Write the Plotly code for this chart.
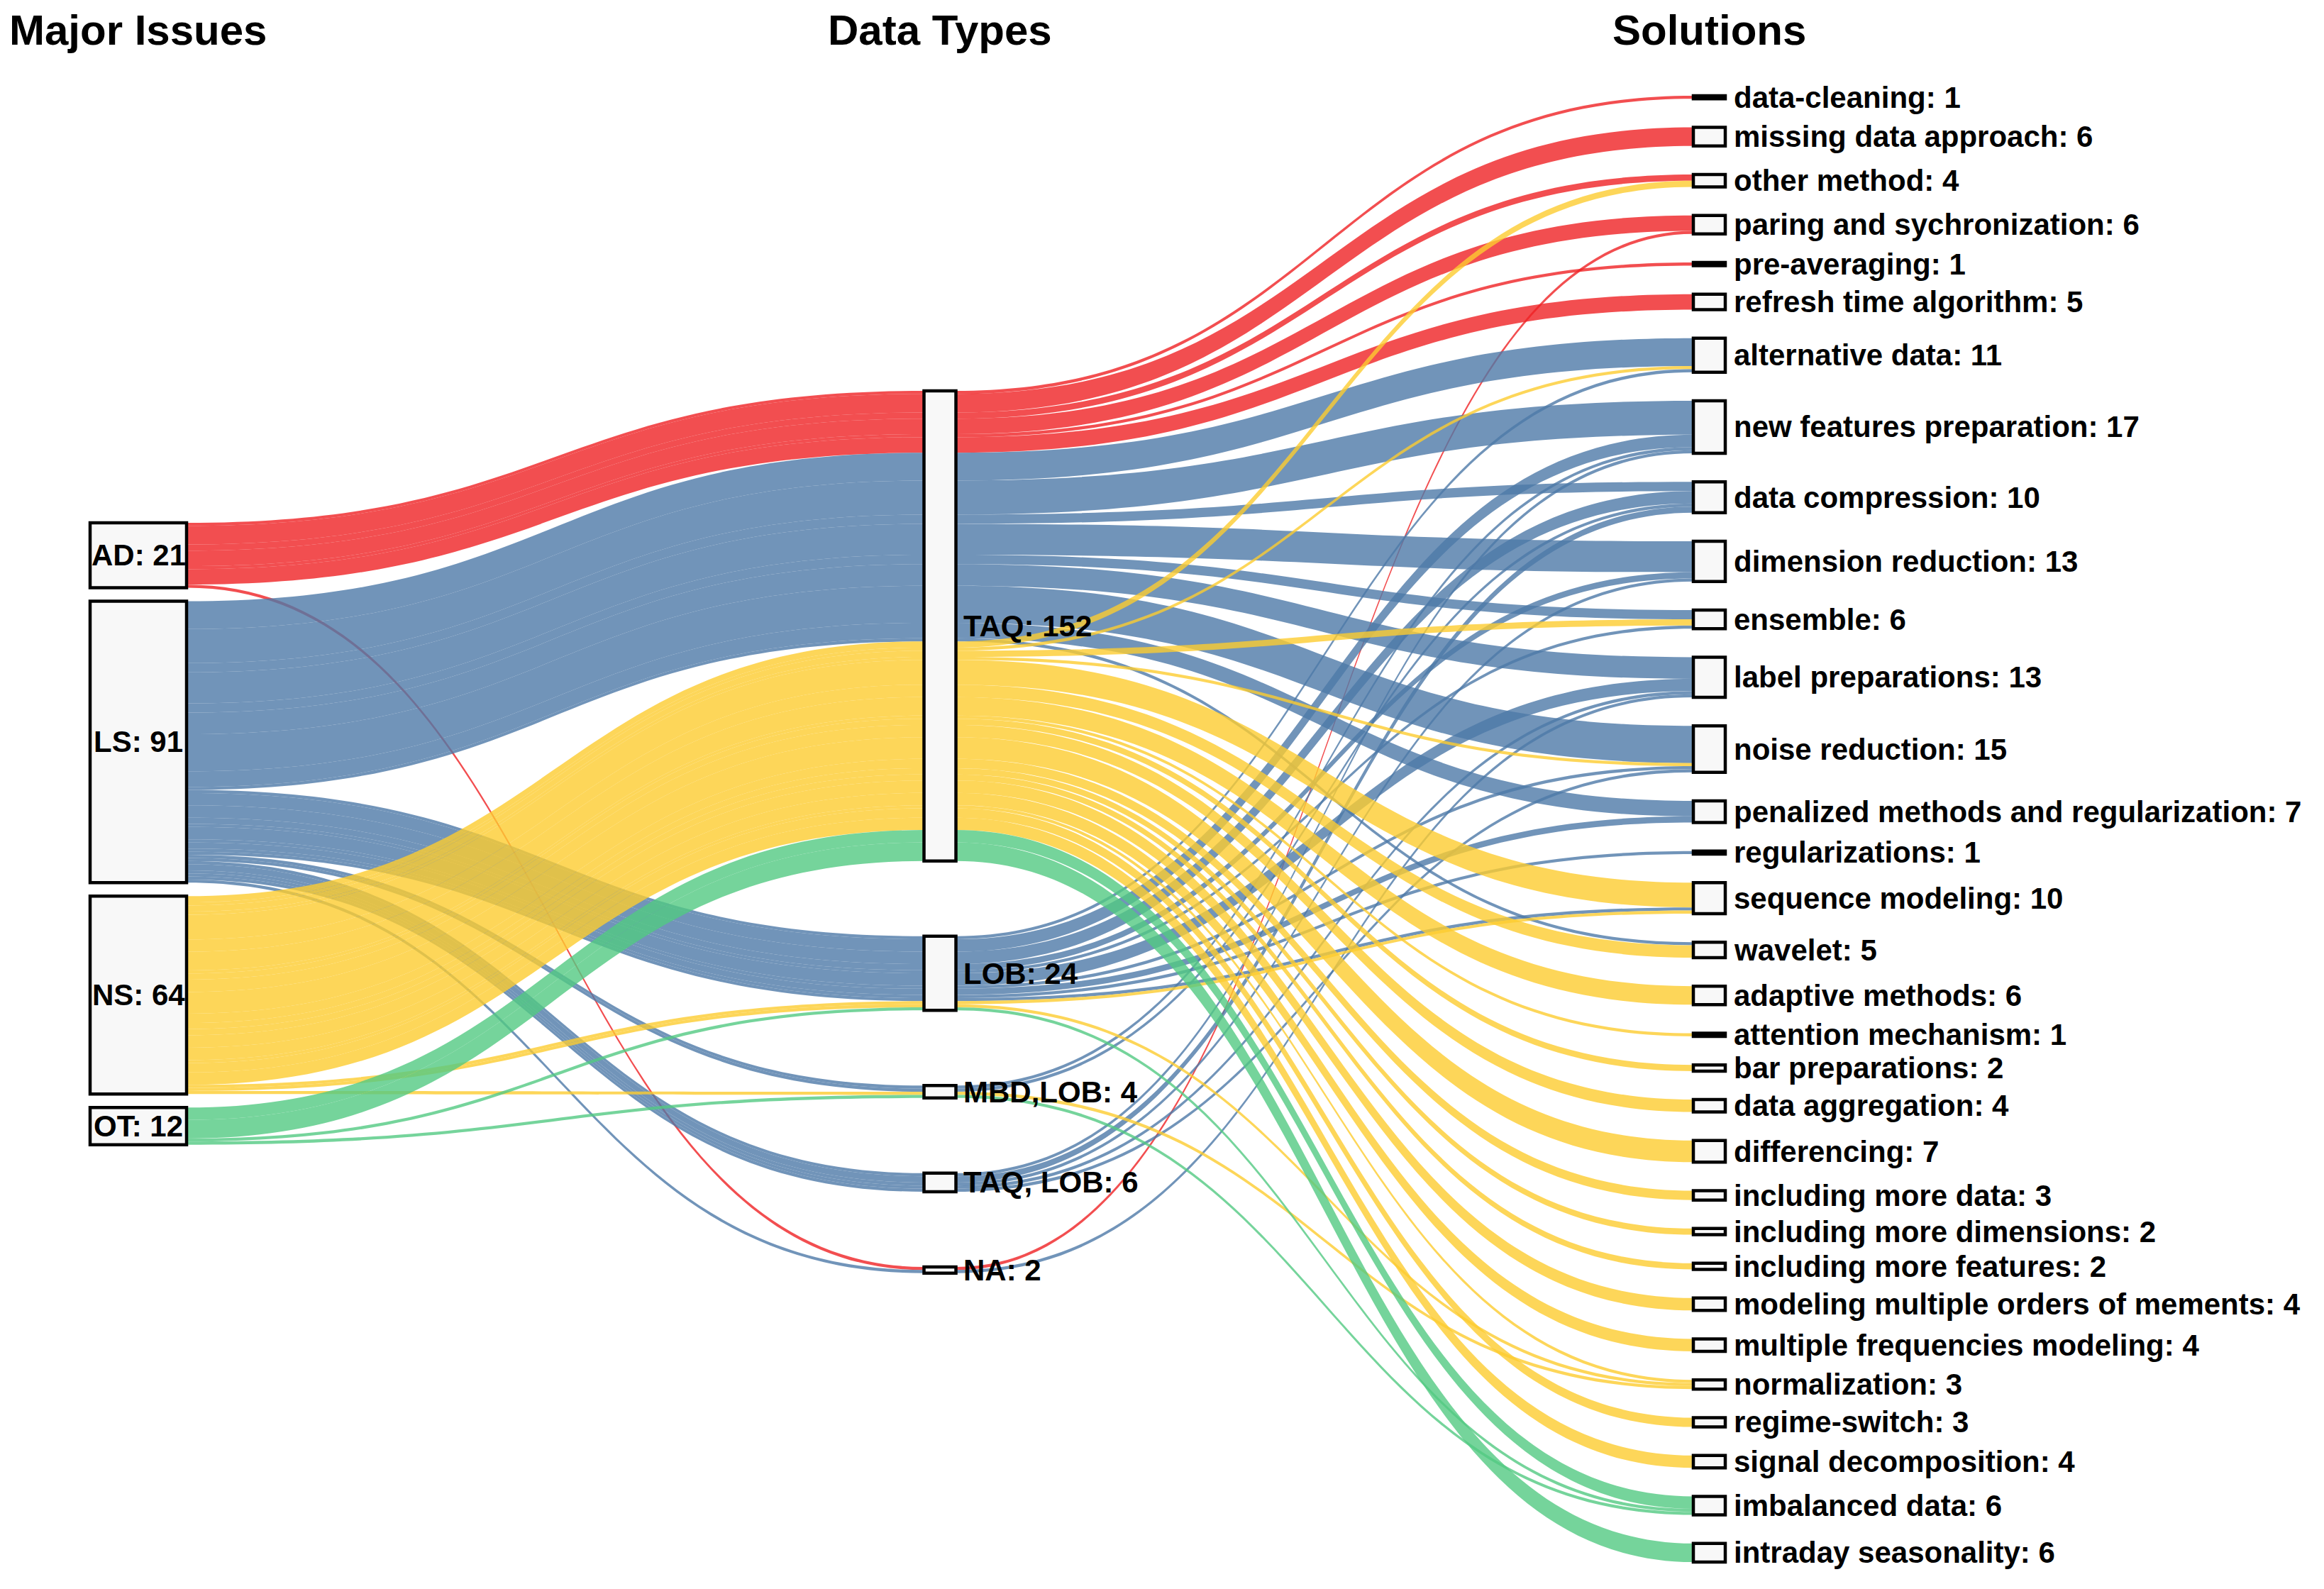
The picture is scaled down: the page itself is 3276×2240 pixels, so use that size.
import plotly.graph_objects as go

# ---------------- data ----------------
issues = ["AD", "LS", "NS", "OT"]
data_types = ["TAQ", "LOB", "MBD,LOB", "TAQ, LOB", "NA"]
solutions = [
    "data-cleaning", "missing data approach", "other method",
    "paring and sychronization", "pre-averaging", "refresh time algorithm",
    "alternative data", "new features preparation", "data compression",
    "dimension reduction", "ensemble", "label preparations", "noise reduction",
    "penalized methods and regularization", "regularizations",
    "sequence modeling", "wavelet", "adaptive methods", "attention mechanism",
    "bar preparations", "data aggregation", "differencing",
    "including more data", "including more dimensions",
    "including more features", "modeling multiple orders of mements",
    "multiple frequencies modeling", "normalization", "regime-switch",
    "signal decomposition", "imbalanced data", "intraday seasonality",
]

# each flow: major issue -> data type -> solution, number of papers
flow_issue = (
    ["AD"] * 7
    + ["LS"] * 27
    + ["NS"] * 22
    + ["OT"] * 4
)
flow_type = [
    # AD
    "TAQ", "TAQ", "TAQ", "TAQ", "NA", "TAQ", "TAQ",
    # LS
    "TAQ", "LOB",
    "TAQ", "LOB", "MBD,LOB", "TAQ, LOB",
    "TAQ", "LOB", "MBD,LOB", "TAQ, LOB",
    "TAQ", "LOB", "TAQ, LOB",
    "TAQ", "LOB",
    "TAQ", "LOB", "TAQ, LOB", "NA",
    "TAQ", "LOB", "TAQ, LOB",
    "TAQ", "LOB",
    "LOB", "LOB", "TAQ",
    # NS
    "TAQ", "TAQ", "TAQ", "TAQ", "TAQ", "LOB", "TAQ", "TAQ", "TAQ", "TAQ",
    "TAQ", "TAQ", "TAQ", "TAQ", "TAQ", "TAQ", "TAQ", "TAQ", "LOB", "MBD,LOB",
    "TAQ", "TAQ",
    # OT
    "TAQ", "LOB", "MBD,LOB", "TAQ",
]
flow_solution = [
    # AD
    "data-cleaning", "missing data approach", "other method",
    "paring and sychronization", "paring and sychronization",
    "pre-averaging", "refresh time algorithm",
    # LS
    "alternative data", "alternative data",
    "new features preparation", "new features preparation",
    "new features preparation", "new features preparation",
    "data compression", "data compression", "data compression", "data compression",
    "dimension reduction", "dimension reduction", "dimension reduction",
    "ensemble", "ensemble",
    "label preparations", "label preparations", "label preparations", "label preparations",
    "noise reduction", "noise reduction", "noise reduction",
    "penalized methods and regularization", "penalized methods and regularization",
    "regularizations", "sequence modeling", "wavelet",
    # NS
    "other method", "alternative data", "ensemble", "noise reduction",
    "sequence modeling", "sequence modeling", "wavelet", "adaptive methods",
    "attention mechanism", "bar preparations", "data aggregation", "differencing",
    "including more data", "including more dimensions", "including more features",
    "modeling multiple orders of mements", "multiple frequencies modeling",
    "normalization", "normalization", "normalization",
    "regime-switch", "signal decomposition",
    # OT
    "imbalanced data", "imbalanced data", "imbalanced data", "intraday seasonality",
]
flow_count = [
    # AD
    1, 6, 2, 5, 1, 1, 5,
    # LS
    9, 1,
    11, 4, 1, 1,
    3, 4, 1, 2,
    10, 2, 1,
    3, 1,
    7, 4, 1, 1,
    12, 1, 1,
    5, 2,
    1, 1, 1,
    # NS
    2, 1, 2, 1, 8, 1, 4, 6, 1, 2, 4, 7, 3, 2, 2, 4, 4, 1, 1, 1, 3, 4,
    # OT
    4, 1, 1, 6,
]

issue_rgb = [(239, 34, 36), (78, 121, 167), (252, 204, 48), (83, 201, 130)]
column_titles = ["Major Issues", "Data Types", "Solutions"]

# ---------------- totals ----------------
issue_total = {i: 0 for i in issues}
type_total = {t: 0 for t in data_types}
sol_total = {s: 0 for s in solutions}
pair_total = {}
for i, t, s, c in zip(flow_issue, flow_type, flow_solution, flow_count):
    issue_total[i] += c
    type_total[t] += c
    sol_total[s] += c
    pair_total[(t, i)] = pair_total.get((t, i), 0) + c
GRAND = sum(flow_count)

# ---------------- layout constants (pixels) ----------------
W, H = 3276, 2240
KY = 4.36                      # px per paper
NODE_PAD = (H - GRAND * KY) / (len(solutions) - 1)
THICK = 45
BORDER = 4.5
FONT = "Liberation Sans, Arial, Helvetica, sans-serif"
LABEL_SIZE = 42
NODE_FILL = "#f8f8f8"

X_LEFT = 240.5
LEFT_BOX_X0 = 127
X_MID = 1325
X_RIGHT = 2409.5
LEFT_TOP, LEFT_GAP = 737, 19
MID_TOP, MID_GAP = 551, 106
RIGHT_TOP, RIGHT_BOTTOM = 135, 2202
RIGHT_GAP = (RIGHT_BOTTOM - RIGHT_TOP - GRAND * KY) / (len(solutions) - 1)

node_x, node_y = [], []
node_index = {}
shapes, annotations = [], []


def px(x):
    return x / W


def py(y):
    return 1 - y / H


def add_node(key, cx, top, value):
    node_index[key] = len(node_x)
    node_x.append(cx / W)
    node_y.append((top + value * KY / 2) / H)


def box(x0, x1, top, value, fill):
    shapes.append(dict(
        type="rect", xref="paper", yref="paper",
        x0=px(x0), x1=px(x1), y0=py(top), y1=py(top + value * KY),
        fillcolor=fill, line=dict(color="black", width=BORDER), layer="above",
    ))


def label(text, x, y, anchor):
    annotations.append(dict(
        x=px(x), y=py(y), xref="paper", yref="paper", text="<b>" + text + "</b>",
        showarrow=False, xanchor=anchor, yanchor="middle",
        font=dict(family=FONT, size=LABEL_SIZE, color="black"),
    ))


# left column
top = LEFT_TOP
for i in issues:
    v = issue_total[i]
    add_node(("L", i), X_LEFT, top, v)
    box(LEFT_BOX_X0, X_LEFT + THICK / 2, top, v, NODE_FILL)
    label(f"{i}: {v}", (LEFT_BOX_X0 + X_LEFT + THICK / 2) / 2, top + v * KY / 2, "center")
    top += v * KY + LEFT_GAP

# middle column (one sub-node per issue, stacked inside each data-type box)
top = MID_TOP
for t in data_types:
    v = type_total[t]
    sub = top
    for i in issues:
        c = pair_total.get((t, i), 0)
        if c:
            add_node(("M", t, i), X_MID, sub, c)
            sub += c * KY
    box(X_MID - THICK / 2, X_MID + THICK / 2, top, v, NODE_FILL)
    label(f"{t}: {v}", X_MID + THICK / 2 + 8, top + v * KY / 2, "left")
    top += v * KY + MID_GAP

# right column
top = RIGHT_TOP
for s in solutions:
    v = sol_total[s]
    add_node(("R", s), X_RIGHT, top, v)
    box(X_RIGHT - THICK / 2, X_RIGHT + THICK / 2, top, v, NODE_FILL)
    label(f"{s}: {v}", X_RIGHT + THICK / 2 + 10, top + v * KY / 2, "left")
    top += v * KY + RIGHT_GAP

# links: one per flow in both stages
src, tgt, val, col = [], [], [], []
for i, t, s, c in zip(flow_issue, flow_type, flow_solution, flow_count):
    r, g, b = issue_rgb[issues.index(i)]
    src.append(node_index[("L", i)])
    tgt.append(node_index[("M", t, i)])
    val.append(c)
    col.append(f"rgba({r},{g},{b},0.8)")
for i, t, s, c in zip(flow_issue, flow_type, flow_solution, flow_count):
    r, g, b = issue_rgb[issues.index(i)]
    src.append(node_index[("M", t, i)])
    tgt.append(node_index[("R", s)])
    val.append(c)
    col.append(f"rgba({r},{g},{b},0.8)")

fig = go.Figure(go.Sankey(
    arrangement="fixed",
    domain=dict(x=[0, 1], y=[0, 1]),
    node=dict(
        label=[""] * len(node_x),
        x=node_x, y=node_y,
        pad=NODE_PAD, thickness=THICK,
        color=NODE_FILL,
        line=dict(color="rgba(0,0,0,0)", width=0),
        hoverinfo="none",
    ),
    link=dict(source=src, target=tgt, value=val, color=col,
              line=dict(width=0), hoverinfo="none"),
))

for title, cx in zip(column_titles, [(LEFT_BOX_X0 + X_LEFT + THICK / 2) / 2, X_MID, X_RIGHT]):
    annotations.append(dict(
        x=px(cx), y=py(42), xref="paper", yref="paper", text="<b>" + title + "</b>",
        showarrow=False, xanchor="center", yanchor="middle",
        font=dict(family=FONT, size=60, color="black"),
    ))

fig.update_layout(
    width=W, height=H,
    margin=dict(l=0, r=0, t=0, b=0),
    paper_bgcolor="white", plot_bgcolor="white",
    shapes=shapes, annotations=annotations,
    font=dict(family=FONT),
)
fig.write_html("out.html", config={"displayModeBar": False},
               post_script="document.body.style.margin='0px';")
